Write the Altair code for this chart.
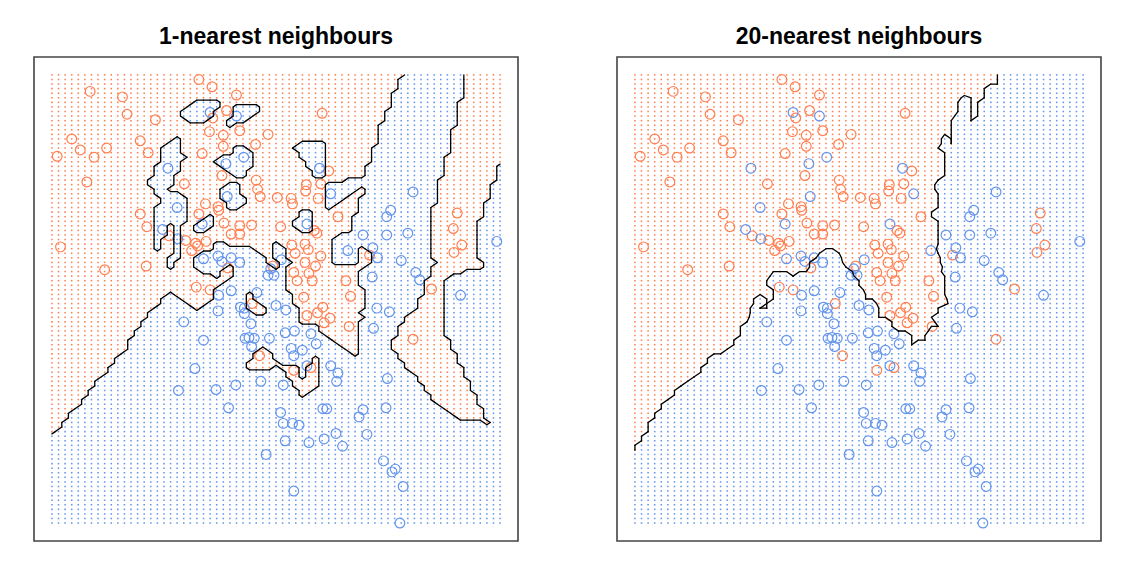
import numpy as np
import pandas as pd
import altair as alt

alt.data_transformers.disable_max_rows()

# ---- training points (data units) ----
red_x = [-0.37,-0.17,-2.02,-1.53,0.20,-1.46,-1.03,0.05,-0.16,0.25,
         -0.21,0.00,0.68,0.49,0.00,-2.30,-1.26,-1.77,-2.17,-2.52,
         -1.96,-1.14,-0.32,-0.02,-2.07,-0.59,0.50,0.52,0.56,0.82,
         -0.27,-0.08,-0.07,-1.26,-0.37,0.01,-1.16,0.25,0.43,0.87,
         0.12,0.25,-0.82,-0.57,-2.47,-0.42,-0.39,-0.26,-0.48,0.07,
         -1.80,-1.17,-0.41,-0.20,1.50,1.60,1.26,1.48,1.25,1.03,
         1.05,1.44,1.74,3.55,1.38,1.42,3.49,3.62,3.50,
         1.04,1.24,1.29,1.09,1.48,2.22,0.75,1.24,1.07,1.30,
         1.40,1.12,1.35,1.86,3.16,1.93,1.22,0.44,1.51,1.43,
         1.27,1.62,1.53,1.91,2.88,0.55,1.07,1.33]
red_y = [2.85,2.77,2.72,2.66,2.68,2.47,2.41,2.51,2.43,2.29,
         2.28,2.24,2.25,2.14,2.12,2.20,2.18,2.10,2.08,2.01,
         2.00,2.05,2.04,1.80,1.73,1.71,1.75,1.65,1.57,1.56,
         1.49,1.46,1.42,1.38,1.38,1.28,1.24,1.25,1.26,1.24,
         1.16,1.16,1.14,1.09,1.02,1.06,1.03,1.08,0.98,0.79,
         0.77,0.81,0.58,0.55,2.48,1.85,1.70,1.71,1.63,1.55,
         1.49,1.55,1.35,1.39,1.20,1.17,1.22,1.04,0.96,
         1.04,1.05,0.99,0.95,0.92,0.93,0.81,0.85,0.74,0.73,
         0.81,0.65,0.65,0.65,0.56,0.48,0.47,0.40,0.36,0.30,
         0.27,0.24,0.19,0.15,0.01,-0.17,-0.33,-0.30]
blue_x = [-0.20,0.20,0.31,0.04,-0.84,0.06,-0.70,-0.32,-0.92,-0.69,
          -0.30,-0.08,-0.02,0.12,0.25,0.72,0.68,0.77,0.12,0.51,
          -0.07,1.46,1.63,2.88,2.54,2.48,1.27,2.12,2.48,2.80,
          4.15,1.89,2.27,2.34,2.70,0.88,2.26,2.92,2.98,3.60,
          0.26,0.32,0.32,-0.08,0.80,0.95,-0.60,0.42,-0.30,0.33,
          0.39,0.47,0.70,0.43,-0.43,0.57,0.19,-0.68,-0.11,0.08,
          0.87,0.91,0.65,2.33,2.52,2.28,0.94,1.08,1.33,1.41,
          1.03,1.20,1.07,1.27,1.63,1.74,1.72,0.91,2.49,1.51,
          1.57,2.12,2.06,2.47,1.05,1.15,1.71,2.18,0.94,1.30,
          1.53,1.81,2.43,2.56,2.61,2.73,1.07,2.68]
blue_y = [2.49,2.45,2.00,1.93,1.88,1.57,1.45,1.27,1.21,1.11,
          0.89,0.92,0.86,0.90,0.85,0.78,0.71,0.71,0.54,0.52,
          0.49,1.88,1.60,1.62,1.42,1.35,1.27,1.15,1.15,1.17,
          1.08,0.98,1.01,0.90,0.87,0.88,0.69,0.74,0.66,0.49,
          0.36,0.35,0.29,0.32,0.38,0.33,0.20,0.18,0.00,0.02,
          0.03,0.02,0.02,-0.07,-0.31,-0.45,-0.49,-0.55,-0.54,-0.74,
          -0.79,-0.91,-1.25,0.35,0.31,0.13,0.08,0.10,0.07,-0.04,
          -0.09,-0.11,-0.17,-0.28,-0.28,-0.36,-0.45,-0.49,-0.42,-0.75,
          -0.75,-0.76,-0.84,-0.74,-0.91,-0.93,-1.02,-1.03,-1.10,-1.12,
          -1.08,-1.16,-1.32,-1.44,-1.41,-1.60,-1.65,-2.00]

# prediction lattice (69 x 99)
GRID_X = (-2.6, 4.2, 69)
GRID_Y = (-2.0, 2.9, 99)
titles = ["1-nearest neighbours", "20-nearest neighbours"]
ks = [1, 20]

RED, BLUE = "#FF7F50", "#6495ED"

gx = np.linspace(*GRID_X)
gy = np.linspace(*GRID_Y)
P = np.column_stack([red_x + blue_x, red_y + blue_y])
lab = np.array([1.0] * len(red_x) + [0.0] * len(blue_x))
GXX, GYY = np.meshgrid(gx, gy)  # shape (ny, nx)
G = np.column_stack([GXX.ravel(), GYY.ravel()])
D = ((G[:, None, :] - P[None, :, :]) ** 2).sum(-1)
ORDER = np.argsort(D, axis=1, kind="stable")

pts_df = pd.DataFrame({
    "x": red_x + blue_x,
    "y": red_y + blue_y,
    "cls": ["red"] * len(red_x) + ["blue"] * len(blue_x),
})

LEVEL = 0.5 - 1e-9  # ties (10 of 20) count as the orange class


def contour_segments(F, level=LEVEL):
    segs = []
    ny, nx = F.shape
    for i in range(ny - 1):
        for j in range(nx - 1):
            c = [(gx[j], gy[i], F[i, j]), (gx[j + 1], gy[i], F[i, j + 1]),
                 (gx[j + 1], gy[i + 1], F[i + 1, j + 1]), (gx[j], gy[i + 1], F[i + 1, j])]
            ins = [v[2] > level for v in c]
            if all(ins) or not any(ins):
                continue
            pts = {}
            for e in range(4):
                a, b = c[e], c[(e + 1) % 4]
                if ins[e] != ins[(e + 1) % 4]:
                    t = (level - a[2]) / (b[2] - a[2])
                    pts[e] = (a[0] + t * (b[0] - a[0]), a[1] + t * (b[1] - a[1]))
            if len(pts) == 2:
                p, q = list(pts.values())
                segs.append((p[0], p[1], q[0], q[1]))
            elif len(pts) == 4:
                center = np.mean([v[2] for v in c])
                if (center > level) == ins[0]:
                    pairs = [(0, 1), (2, 3)]
                else:
                    pairs = [(3, 0), (1, 2)]
                for a, b in pairs:
                    segs.append((pts[a][0], pts[a][1], pts[b][0], pts[b][1]))
    return pd.DataFrame(segs, columns=["x", "y", "x2", "y2"])


xscale = alt.Scale(domain=[-2.872, 4.472], nice=False, zero=False)
yscale = alt.Scale(domain=[-2.196, 3.096], nice=False, zero=False)
cscale = alt.Scale(domain=["red", "blue"], range=[RED, BLUE])

panels = []
for k, title in zip(ks, titles):
    prob = lab[ORDER[:, :k]].mean(axis=1)
    F = prob.reshape(len(gy), len(gx))
    dots_df = pd.DataFrame({
        "x": np.round(G[:, 0], 3),
        "y": np.round(G[:, 1], 3),
        "cls": np.where(prob > LEVEL, "red", "blue"),
    })
    seg_df = contour_segments(F)

    dots = alt.Chart(dots_df).mark_square(size=2.4, opacity=1).encode(
        x=alt.X("x:Q", scale=xscale, axis=None),
        y=alt.Y("y:Q", scale=yscale, axis=None),
        color=alt.Color("cls:N", scale=cscale, legend=None),
    )
    circles = alt.Chart(pts_df).mark_point(size=95, strokeWidth=1.2, filled=False, opacity=1).encode(
        x=alt.X("x:Q", scale=xscale, axis=None),
        y=alt.Y("y:Q", scale=yscale, axis=None),
        color=alt.Color("cls:N", scale=cscale, legend=None),
    )
    lines = alt.Chart(seg_df).mark_rule(color="black", strokeWidth=1.3, strokeCap="round").encode(
        x=alt.X("x:Q", scale=xscale, axis=None),
        y=alt.Y("y:Q", scale=yscale, axis=None),
        x2="x2:Q",
        y2="y2:Q",
    )
    panels.append(
        alt.layer(dots, circles, lines).properties(
            width=484, height=484,
            title=alt.TitleParams(title, fontSize=23, font="Liberation Sans", fontWeight="bold",
                                  anchor="middle", baseline="alphabetic", offset=-10, color="black"),
        )
    )

chart = (
    alt.hconcat(*panels, spacing=97)
    .properties(padding={"left": 33, "top": 25, "right": 5, "bottom": 5}, background="white")
    .configure_view(stroke="#444444", strokeWidth=1.6)
)

chart.save("out.html", embed_options={"renderer": "svg", "actions": False})
